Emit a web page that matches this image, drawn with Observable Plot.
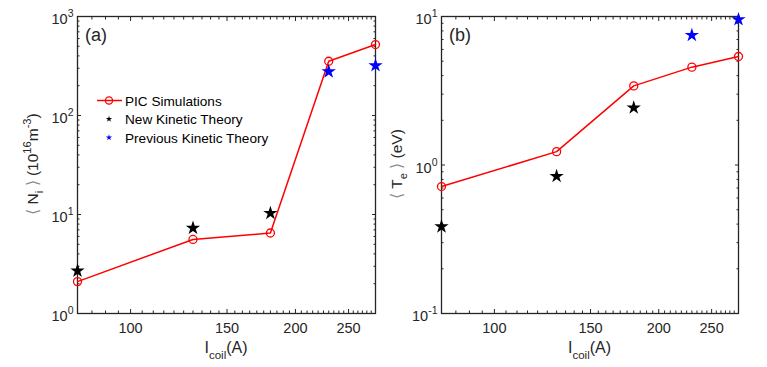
<!DOCTYPE html>
<html><head><meta charset="utf-8">
<script src="https://cdn.jsdelivr.net/npm/d3@7"></script>
<script src="https://cdn.jsdelivr.net/npm/@observablehq/plot@0.6"></script>
<style>
body{margin:0;background:#fff;}
#wrap{display:flex;width:767px;height:367px;overflow:hidden;}
svg{font-family:"Liberation Sans",Arial,Helvetica,sans-serif;}
</style></head><body><div id="wrap"></div>
<script>
// ---- data ----
const coil = [80, 130, 180, 230, 280];
const niPIC = [2.1, 5.6, 6.5, 353, 521];
const newCoil = [80, 130, 180];
const niNew = [2.7, 7.3, 10.3];
const prevCoil = [230, 280];
const niPrev = [278, 320];
const tePIC = [0.716, 1.23, 3.41, 4.56, 5.38];
const teNew = [0.385, 0.84, 2.43];
const tePrev = [7.48, 9.55];
const xTickValues = [100, 150, 200, 250];
const legendLabels = ["PIC Simulations", "New Kinetic Theory", "Previous Kinetic Theory"];

const INK = "#262626";

function addRich(svg, x, y, parts, size, rotate) {
  const g = d3.select(svg).append("g").attr("transform", `translate(${x},${y})` + (rotate ? " rotate(-90)" : ""));
  const t = g.append("text").attr("text-anchor", "middle").attr("font-size", size).attr("fill", INK);
  let cur = 0;
  for (const [s, type] of parts) {
    const target = type === "sub" ? size * 0.35 : type === "sup" ? -size * 0.45 : 0;
    const fs = type === "n" || type === "br" ? size : size * 0.72;
    const ts = t.append("tspan").attr("dy", target - cur).attr("font-size", fs).text(s);
    if (type === "br") ts.attr("fill", "#8a8a8a");
    cur = target;
  }
  return t;
}

function inwardTicks(xMinor, yMajor, yMinor) {
  const blank = () => "";
  const o = (ticks, size, anchor, k) => (k === "x" ? Plot.axisX : Plot.axisY)({
    ticks, tickSize: -size, anchor, tickFormat: blank, label: null, stroke: INK, strokeWidth: 1
  });
  return [
    o(xMinor, 2.5, "bottom", "x"), o(xMinor, 2.5, "top", "x"),
    o(xTickValues, 4, "bottom", "x"), o(xTickValues, 4, "top", "x"),
    o(yMinor, 2.5, "left", "y"), o(yMinor, 2.5, "right", "y"),
    o(yMajor, 4, "left", "y"), o(yMajor, 4, "right", "y")
  ];
}

function panel(o) {
  const W = o.width - o.marginLeft - o.marginRight;
  const pic = coil.map((c, i) => ({x: c, y: o.pic[i]}));
  const nw = newCoil.map((c, i) => ({x: c, y: o.nw[i]}));
  const pv = prevCoil.map((c, i) => ({x: c, y: o.pv[i]}));
  const xMinor = d3.range(85, 280, 5).filter(v => !xTickValues.includes(v));
  const yMajor = o.yMajor;
  const yMinor = [];
  for (let k = 0; k < yMajor.length - 1; k++) for (let m = 2; m <= 9; m++) yMinor.push(yMajor[k] * m);
  const svg = Plot.plot({
    width: o.width, height: o.height,
    marginLeft: o.marginLeft, marginRight: o.marginRight, marginTop: o.marginTop, marginBottom: o.marginBottom,
    style: {color: INK, background: "white", overflow: "visible"},
    x: {type: "log", domain: [80, 280]},
    y: {type: "log", domain: o.yDomain},
    marks: [
      ...inwardTicks(xMinor, yMajor, yMinor),
      Plot.axisX({ticks: xTickValues, tickSize: 0, tickPadding: 9, fontSize: 14.5, tickFormat: d => String(d), label: null}),
      Plot.axisY({ticks: yMajor, tickSize: 0, tickPadding: 4, fontSize: 14.5, tickFormat: d => "10^" + Math.round(Math.log10(d)), label: null}),
      Plot.frame({stroke: INK, strokeWidth: 1.3}),
      Plot.line(pic, {x: "x", y: "y", stroke: "#ff0000", strokeWidth: 1.5}),
      Plot.dot(pic, {x: "x", y: "y", r: 4, stroke: "#ff0000", strokeWidth: 1.3, fill: "none"}),
      Plot.dot(nw, {x: "x", y: "y", symbol: "star", r: 4.5, fill: "black", stroke: "none"}),
      Plot.dot(pv, {x: "x", y: "y", symbol: "star", r: 4.5, fill: "#0000ff", stroke: "none"})
    ]
  });
  // superscript exponents for tick labels
  svg.querySelectorAll('g[aria-label="y-axis tick label"] text').forEach(t => {
    const s = t.textContent;
    if (!s.includes("^")) return;
    const [b, e] = s.split("^");
    t.textContent = "";
    const sel = d3.select(t);
    sel.attr("transform", (sel.attr("transform") || "") + " translate(0,3)");
    sel.append("tspan").text(b);
    sel.append("tspan").attr("dy", -7).attr("font-size", 10.5).text(e);
  });
  // panel tag
  d3.select(svg).append("text").attr("x", o.marginLeft + 8).attr("y", 41).attr("text-anchor", "start")
    .attr("font-size", 18).attr("fill", INK).text(o.tag);
  // axis labels
  addRich(svg, o.marginLeft + W / 2, 353, [["I", "n"], ["coil", "sub"], ["(A)", "n"]], 16, false);
  addRich(svg, o.yLabelX, 164, o.yParts, 15.5, true);
  return svg;
}

const wrap = document.getElementById("wrap");
const a = panel({
  width: 385, height: 367, marginLeft: 77, marginRight: 10, marginTop: 16, marginBottom: 54,
  yDomain: [1, 1000], yMajor: [1, 10, 100, 1000],
  pic: niPIC, nw: niNew, pv: niPrev, tag: "(a)", yLabelX: 38,
  yParts: [["\u27E8 ", "br"], ["N", "n"], ["i", "sub"], [" \u27E9", "br"], [" (10", "n"], ["16", "sup"], ["m", "n"], ["-3", "sup"], [")", "n"]]
});
const b = panel({
  width: 382, height: 367, marginLeft: 56, marginRight: 29, marginTop: 16, marginBottom: 54,
  yDomain: [0.1, 10], yMajor: [0.1, 1, 10],
  pic: tePIC, nw: teNew, pv: tePrev, tag: "(b)", yLabelX: 17,
  yParts: [["\u27E8 ", "br"], ["T", "n"], ["e", "sub"], [" \u27E9", "br"], [" (eV)", "n"]]
});
wrap.appendChild(a);
wrap.appendChild(b);

// legend in panel (a)
const lg = d3.select(a).append("g").attr("font-size", 13.6).attr("fill", "#000").attr("text-anchor", "start");
const rows = [100.5, 119, 137.5];
lg.append("line").attr("x1", 97).attr("x2", 122).attr("y1", rows[0]).attr("y2", rows[0]).attr("stroke", "#ff0000").attr("stroke-width", 1.5);
lg.append("circle").attr("cx", 109).attr("cy", rows[0]).attr("r", 3.6).attr("fill", "none").attr("stroke", "#ff0000").attr("stroke-width", 1.3);
const star = d3.symbol(d3.symbolStar, 12)();
lg.append("path").attr("d", star).attr("transform", `translate(109,${rows[1]})`).attr("fill", "black");
lg.append("path").attr("d", star).attr("transform", `translate(109,${rows[2]})`).attr("fill", "#0000ff");
legendLabels.forEach((s, i) => lg.append("text").attr("x", 125).attr("y", rows[i] + 5).text(s));
</script></body></html>
